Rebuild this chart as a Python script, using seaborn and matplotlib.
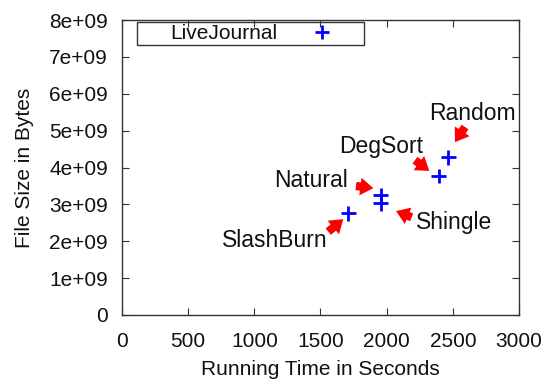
import numpy as np
import pandas as pd
import matplotlib
matplotlib.use("Agg")
import matplotlib.pyplot as plt
from matplotlib.patches import Rectangle
from matplotlib.ticker import FuncFormatter
import seaborn as sns

#%% data
methods = ["Random", "DegSort", "Natural", "Shingle", "SlashBurn"]
run_time = [2466, 2395, 1955, 1955, 1710]
file_size = [4.28e9, 3.77e9, 3.25e9, 3.03e9, 2.76e9]
label_x = [2645, 1957, 1428, 2509, 1153]
label_y = [5.48e9, 4.58e9, 3.66e9, 2.52e9, 2.03e9]
# arrow tail / tip, in data units
arrow_tail = [(2592, 5.10e9), (2214, 4.20e9), (1768, 3.50e9), (2189, 2.65e9), (1559, 2.26e9)]
arrow_tip = [(2516, 4.69e9), (2322, 3.91e9), (1899, 3.44e9), (2071, 2.82e9), (1672, 2.60e9)]

df = pd.DataFrame({"time": run_time, "size": file_size, "graph": "LiveJournal"})

#%% style
sns.set_style("ticks")
plt.rcParams["font.family"] = ["Liberation Sans", "DejaVu Sans"]

fig = plt.figure(figsize=(5.48, 3.79), dpi=100)
ax = fig.add_axes([0.2226, 0.1689, 0.7245, 0.778])

sns.scatterplot(data=df, x="time", y="size", hue="graph", palette=["#0000ff"],
                marker="+", s=115, linewidth=2, ax=ax)

for tail, tip in zip(arrow_tail, arrow_tip):
    ax.annotate("", xy=tip, xytext=tail,
                arrowprops=dict(arrowstyle="simple,head_length=0.55,head_width=0.75,tail_width=0.35",
                                color="#ff0000", lw=0, shrinkA=0, shrinkB=0, mutation_scale=17))
for name, lx, ly in zip(methods, label_x, label_y):
    ax.text(lx, ly, name, ha="center", va="center", fontsize=16.5, color="#111111")

ax.set_xlim(0, 3000)
ax.set_ylim(0, 8e9)
ax.set_xticks(np.arange(0, 3001, 500))
ax.set_yticks(np.arange(0, 8.01e9, 1e9))
ax.yaxis.set_major_formatter(FuncFormatter(lambda v, p: "0" if v == 0 else "%de+09" % round(v / 1e9)))
ax.tick_params(direction="in", top=True, right=True, length=5, labelsize=15,
               color="#333333", labelcolor="#111111")
ax.tick_params(axis="x", pad=12)
ax.tick_params(axis="y", pad=10)
for sp in ax.spines.values():
    sp.set_color("#333333")
    sp.set_linewidth(1)

ax.set_xlabel("Running Time in Seconds", fontsize=15, labelpad=7, color="#111111")
ax.set_ylabel("File Size in Bytes", fontsize=15, labelpad=11, color="#111111")

# key: text then marker, inside a plain box
leg = ax.legend(loc="center left", bbox_to_anchor=(0.121, 0.953), markerfirst=False,
                fontsize=15, frameon=False, handletextpad=1.0, borderpad=0,
                borderaxespad=0, handlelength=2.3)
for t in leg.get_texts():
    t.set_color("#111111")
ax.add_patch(Rectangle((0.038, 0.915), 0.572, 0.078, transform=ax.transAxes,
                       fill=False, edgecolor="#333333", lw=1, zorder=5))

plt.savefig("out.png", dpi=100)
